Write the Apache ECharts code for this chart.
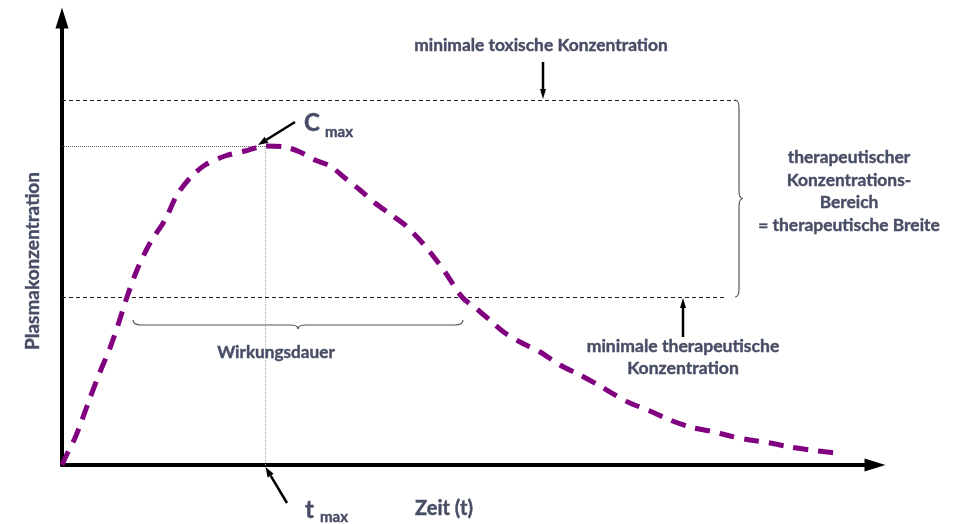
<!DOCTYPE html>
<html><head><meta charset="utf-8">
<script src="https://cdn.jsdelivr.net/npm/echarts@6/dist/echarts.min.js"></script>
<style>html,body{margin:0;padding:0;background:#fff}#c{width:956px;height:524px}</style>
</head><body><div id="c"></div>
<script>
// Time (arbitrary units) and plasma concentration (arbitrary units)
const timeValues = [0, 0.12, 0.26, 0.40, 0.56, 0.76, 0.96, 1.12, 1.30, 1.50, 1.76, 2.06, 2.30, 2.56, 2.86, 3.26, 3.66, 4.06,
  4.46, 4.76, 5.06, 5.36, 5.66, 5.96, 6.26, 6.56, 6.86, 7.12, 7.36, 7.66, 8.00, 8.32, 8.60, 8.86, 9.16, 9.56, 9.96,
  10.36, 10.76, 11.06, 11.36, 11.76, 12.16, 12.56, 12.96, 13.36, 13.76, 14.16, 14.56, 14.96, 15.46];
const concValues = [0, 0.26, 0.54, 0.90, 1.34, 1.86, 2.34, 2.80, 3.36, 3.90, 4.44, 4.90, 5.40, 5.74, 6.00, 6.18, 6.28, 6.38,
  6.36, 6.26, 6.10, 5.98, 5.74, 5.50, 5.24, 5.02, 4.80, 4.54, 4.26, 3.86, 3.36, 3.10, 2.86, 2.64, 2.46, 2.26, 2.00,
  1.80, 1.58, 1.40, 1.24, 1.08, 0.90, 0.76, 0.68, 0.58, 0.50, 0.44, 0.36, 0.30, 0.24];
const minToxicConc = 7.30;
const minTherapeuticConc = 3.36;
const tMax = 4.06;
const cMax = 6.38;
const refLineEndToxic = 13.5;
const refLineEndTherapeutic = 13.3;
const actionStart = 1.42;
const actionEnd = 8.02;
const xMax = 16.26;
const yMax = 8.94;

const textColor = '#484d66';
const font = 'Lato, "Open Sans", sans-serif';

const chart = echarts.init(document.getElementById('c'), null, {renderer: 'canvas'});
const curve = timeValues.map((t, i) => [t, concValues[i]]);

chart.setOption({
  animation: false,
  backgroundColor: '#fff',
  grid: {left: 62, right: 81, top: 18, bottom: 59},
  xAxis: {
    type: 'value', min: 0, max: xMax,
    splitLine: {show: false}, axisTick: {show: false}, axisLabel: {show: false},
    axisLine: {show: true, symbol: ['none', 'triangle'], symbolSize: [13, 21], lineStyle: {color: '#000', width: 4}}
  },
  yAxis: {
    type: 'value', min: 0, max: yMax,
    splitLine: {show: false}, axisTick: {show: false}, axisLabel: {show: false},
    axisLine: {show: true, symbol: ['none', 'triangle'], symbolSize: [13, 21], lineStyle: {color: '#000', width: 4}}
  },
  series: [
    {
      type: 'lines', coordinateSystem: 'cartesian2d', clip: false, z: 1,
      lineStyle: {color: '#222', width: 1, type: [4, 3], opacity: 1},
      data: [
        {coords: [[0, minToxicConc], [refLineEndToxic, minToxicConc]]},
        {coords: [[0, minTherapeuticConc], [refLineEndTherapeutic, minTherapeuticConc]]}
      ]
    },
    {
      type: 'lines', coordinateSystem: 'cartesian2d', clip: false, z: 1,
      lineStyle: {color: '#666', width: 1, type: [1, 1], opacity: 1},
      data: [{coords: [[0, cMax], [tMax, cMax]]}]
    },
    {
      type: 'lines', coordinateSystem: 'cartesian2d', clip: false, z: 1,
      lineStyle: {color: '#aaa', width: 1, type: [1, 1], opacity: 1},
      data: [{coords: [[tMax, cMax], [tMax, 0]]}]
    },
    {
      type: 'line', data: curve, smooth: 0.3, showSymbol: false, symbol: 'none', z: 3,
      lineStyle: {color: '#800080', width: 5, type: [15, 10], cap: 'butt'}
    }
  ]
});

function px(x, y) { return chart.convertToPixel({gridIndex: 0}, [x, y]); }

function arrow(from, to, head, w) {
  const a = px(from[0], from[1]), b = px(to[0], to[1]);
  const dx = b[0] - a[0], dy = b[1] - a[1];
  const len = Math.sqrt(dx * dx + dy * dy);
  const ux = dx / len, uy = dy / len;
  const bx = b[0] - ux * head, by = b[1] - uy * head;
  const nx = -uy * w / 2, ny = ux * w / 2;
  return [
    {type: 'line', shape: {x1: a[0], y1: a[1], x2: bx, y2: by}, style: {stroke: '#000', lineWidth: 2.5}, z: 10},
    {type: 'polygon', shape: {points: [[b[0], b[1]], [bx + nx, by + ny], [bx - nx, by - ny]]}, style: {fill: '#000'}, z: 10}
  ];
}

function txt(x, y, text, size, align, extra, rot) {
  return {
    type: 'text', x: x, y: y, z: 20, rotation: rot || 0,
    style: Object.assign({text: text, fill: textColor, stroke: textColor, lineWidth: 0.4,
      font: 'bold ' + size + 'px ' + font, align: align || 'center', verticalAlign: 'middle'}, extra || {})
  };
}
const braceStyle = {stroke: '#555', lineWidth: 1.2, fill: null};
function seg(x1, y1, x2, y2) { return {type: 'line', shape: {x1, y1, x2, y2}, style: braceStyle, z: 5}; }
function qc(x1, y1, cx, cy, x2, y2) { return {type: 'bezierCurve', shape: {x1, y1, x2, y2, cpx1: cx, cpy1: cy}, style: braceStyle, z: 5}; }

// braces
const yTop = px(0, minToxicConc)[1], yBot = px(0, minTherapeuticConc)[1];
const bxv = px(refLineEndToxic, 0)[0] + 2;
const yMid = (yTop + yBot) / 2;
const hx1 = px(actionStart, 0)[0], hx2 = px(actionEnd, 0)[0];
const hy = yBot + 28, hm = (hx1 + hx2) / 2;

const g = [
  qc(bxv - 4, yTop, bxv, yTop, bxv, yTop + 8),
  seg(bxv, yTop + 8, bxv, yMid - 8),
  qc(bxv, yMid - 8, bxv, yMid, bxv + 4, yMid),
  qc(bxv + 4, yMid, bxv, yMid, bxv, yMid + 8),
  seg(bxv, yMid + 8, bxv, yBot - 8),
  qc(bxv, yBot - 8, bxv, yBot, bxv - 4, yBot),
  qc(hx1, hy - 5, hx1, hy, hx1 + 8, hy),
  seg(hx1 + 8, hy, hm - 8, hy),
  qc(hm - 8, hy, hm, hy, hm, hy + 4),
  qc(hm, hy + 4, hm, hy, hm + 8, hy),
  seg(hm + 8, hy, hx2 - 8, hy),
  qc(hx2 - 8, hy, hx2, hy, hx2, hy - 5),
  ...arrow([9.62, 8.06], [9.62, minToxicConc + 0.02], 10, 6),
  ...arrow([12.42, 2.56], [12.42, minTherapeuticConc - 0.02], 10, 6),
  ...arrow([4.66, 6.86], [3.92, 6.40], 10, 7),
  ...arrow([4.50, -0.76], [4.07, -0.04], 10, 7),
  txt(33, 261, 'Plasmakonzentration', 19, 'center', null, Math.PI / 2),
  txt(541, 45, 'minimale toxische Konzentration', 17.4),
  txt(849, 191.5, 'therapeutischer\nKonzentrations-\nBereich\n= therapeutische Breite', 17.4, 'center', {lineHeight: 22.5}),
  txt(683, 357, 'minimale therapeutische\nKonzentration', 17.6, 'center', {lineHeight: 22}),
  txt(hm - 22, 352, 'Wirkungsdauer', 17.2),
  txt(444, 509, 'Zeit (t)', 20),
  txt(304, 123, 'C', 24, 'left'),
  txt(325, 132, 'max', 15, 'left'),
  txt(305, 510, 't', 24, 'left'),
  txt(320, 517, 'max', 15, 'left')
];
chart.setOption({graphic: g});
</script></body></html>
